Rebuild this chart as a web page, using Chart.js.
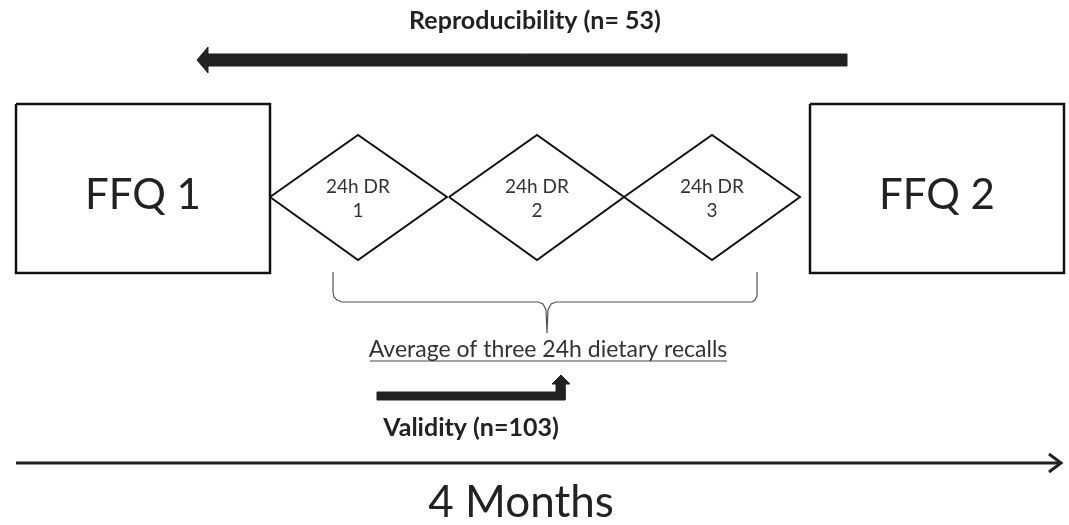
<!DOCTYPE html>
<html>
<head>
<meta charset="utf-8">
<script src="https://cdn.jsdelivr.net/npm/chart.js@4"></script>
<style>
  body { margin: 0; background: #fff; }
  #c { display: block; }
</style>
</head>
<body>
<canvas id="c" width="1069" height="525"></canvas>
<script>
// Formas do diagrama (coordenadas no espaço do desenho, 0..1069 x 0..525)
const ffq1Box = [[16, 104], [270, 104], [270, 273], [16, 273], [16, 104]];
const ffq2Box = [[810, 104], [1064, 104], [1064, 273], [810, 273], [810, 104]];
const recall1 = [[270, 197], [358, 135], [447, 197], [358, 260], [270, 197]];
const recall2 = [[449, 197], [537, 135], [624, 197], [537, 260], [449, 197]];
const recall3 = [[624, 197], [712, 135], [800, 197], [712, 260], [624, 197]];
const reproArrow = [[847, 54], [208, 54], [208, 47], [197, 60], [208, 73], [208, 66], [847, 66], [847, 54]];
const validArrow = [[377, 392], [556, 392], [556, 384], [552, 384], [561, 375], [570, 384], [565, 384], [565, 400], [377, 400], [377, 392]];
const timeLine = [[16, 463], [1060, 463]];
const timeHead = [[1049, 454], [1061, 463], [1049, 472]];
const brace = [[333, 272], [333, 292], [334, 297], [337, 300], [342, 302], [538, 302], [543, 304], [546, 310], [547, 333],
               [548, 310], [551, 304], [556, 302], [752, 302], [755, 300], [757, 296], [757, 272]];
const underline = [[370, 361], [727, 361]];

// Textos
const labels = ['Reproducibility (n= 53)', 'FFQ 1', 'FFQ 2', '24h DR', '1', '24h DR', '2', '24h DR', '3',
                'Average of three 24h dietary recalls', 'Validity (n=103)', '4 Months'];
const labelPos = [[535, 21], [143, 195], [937, 195], [358, 187], [358, 211], [537, 187], [537, 211], [712, 187], [712, 211],
                  [548, 350], [471, 428], [521, 503]];
const labelFont = ['bold 25px Lato', '42px Lato', '42px Lato', '19px Lato', '19px Lato', '19px Lato', '19px Lato', '19px Lato', '19px Lato',
                   '23px Lato', 'bold 25px Lato', '44px Lato'];
const labelColor = ['#222', '#222', '#222', '#333', '#333', '#333', '#333', '#333', '#333', '#333', '#222', '#222'];

const pts = arr => arr.map(p => ({ x: p[0], y: p[1] }));

function outline(data, width, color) {
    return { data: pts(data), showLine: true, borderColor: color || '#111', borderWidth: width,
             pointRadius: 0, fill: false, tension: 0, borderJoinStyle: 'miter' };
}
function solid(data) {
    return { data: pts(data), showLine: true, borderColor: '#222', borderWidth: 1, backgroundColor: '#222',
             pointRadius: 0, fill: 'shape', tension: 0 };
}

// Plugin simples para os textos
const textPlugin = {
    id: 'diagramText',
    afterDatasetsDraw(chart) {
        const ctx = chart.ctx;
        const xs = chart.scales.x, ys = chart.scales.y;
        ctx.save();
        ctx.textAlign = 'center';
        ctx.textBaseline = 'middle';
        labels.forEach((t, i) => {
            ctx.font = labelFont[i];
            ctx.fillStyle = labelColor[i];
            ctx.fillText(t, xs.getPixelForValue(labelPos[i][0]), ys.getPixelForValue(labelPos[i][1]));
        });
        ctx.restore();
    }
};

new Chart(document.getElementById('c').getContext('2d'), {
    type: 'scatter',
    data: {
        datasets: [
            outline(ffq1Box, 2.5), outline(ffq2Box, 2.5),
            outline(recall1, 2), outline(recall2, 2), outline(recall3, 2),
            solid(reproArrow), solid(validArrow),
            outline(timeLine, 3, '#222'), outline(timeHead, 3, '#222'),
            outline(brace, 1.2, '#555'), outline(underline, 1, '#444')
        ]
    },
    options: {
        responsive: false,
        animation: false,
        layout: { padding: 0 },
        plugins: { legend: { display: false }, tooltip: { enabled: false } },
        scales: {
            x: { type: 'linear', min: 0, max: 1069, display: false },
            y: { type: 'linear', min: 0, max: 525, reverse: true, display: false }
        }
    },
    plugins: [textPlugin]
});
</script>
</body>
</html>
